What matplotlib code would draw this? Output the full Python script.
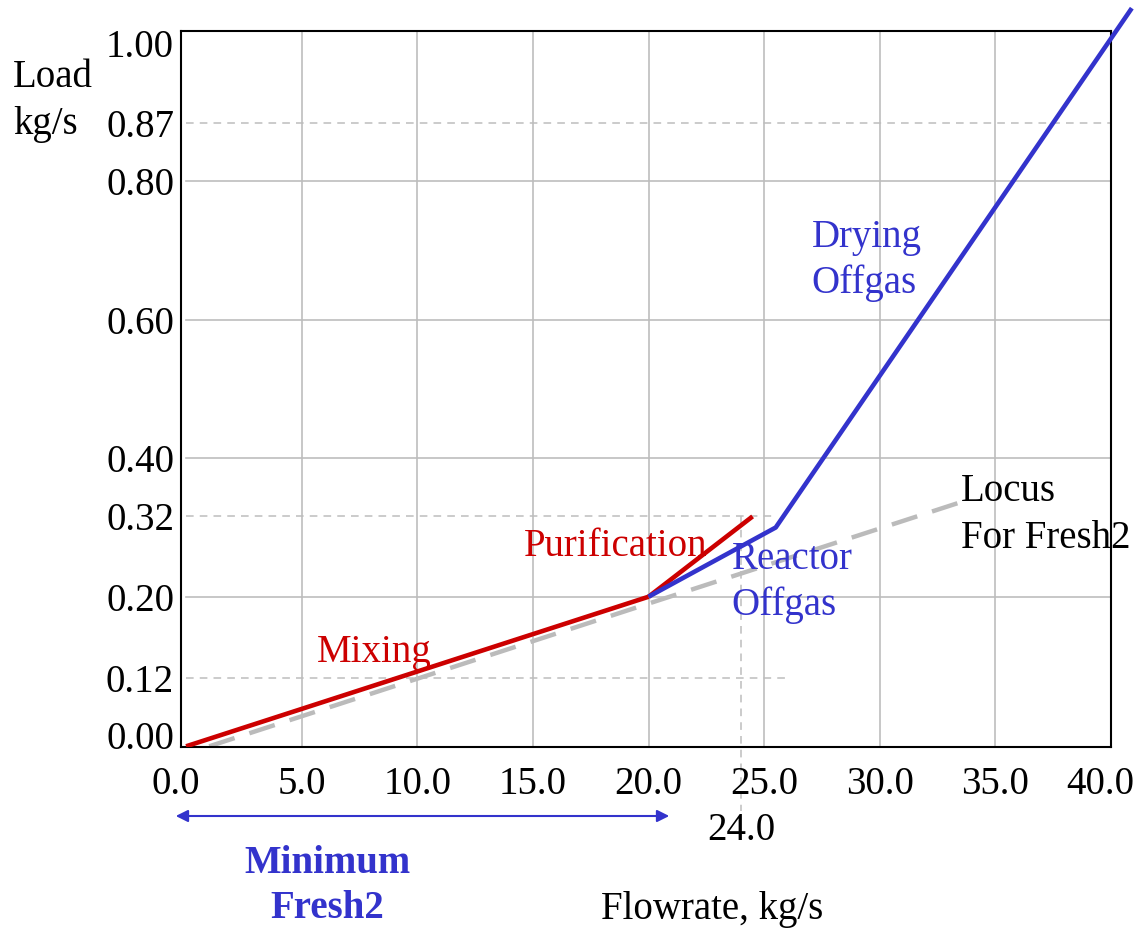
import matplotlib
matplotlib.use("Agg")
import matplotlib.pyplot as plt
from matplotlib.transforms import ScaledTranslation

plt.rcParams['font.family'] = ['Liberation Serif', 'DejaVu Serif']

# ---- data ----
mixing_x = [0.0, 20.0]
mixing_y = [-0.016, 0.20]
purification_x = [20.0, 24.5]
purification_y = [0.20, 0.316]
reactor_x = [20.0, 25.5]
reactor_y = [0.20, 0.300]
drying_x = [25.5, 40.9]
drying_y = [0.300, 1.050]
locus_x = [1.0, 33.45]
locus_y = [-0.016, 0.336]

xtick_values = [0, 5, 10, 15, 20, 25, 30, 35, 40]
xtick_labels = ["0.0", "5.0", "10.0", "15.0", "20.0", "25.0", "30.0", "35.0", "40.0"]
ytick_values = [0.0, 0.083, 0.20, 0.3165, 0.40, 0.60, 0.80, 0.8836, 1.0]
ytick_labels = ["0.00", "0.12", "0.20", "0.32", "0.40", "0.60", "0.80", "0.87", "1.00"]
solid_grid_y = [0.2, 0.4, 0.6, 0.8]
solid_grid_x = [5, 10, 15, 20, 25, 30, 35]

RED = "#CC0000"
BLUE = "#3333CC"
GRID = "#BDBDBD"
LOCUS = "#BBBBBB"

fig = plt.figure(figsize=(11.41, 9.33), dpi=100)
ax = fig.add_axes([181/1141, (933-747)/933, (1111-181)/1141, (747-31)/933])
ax.set_xlim(-0.22, 40.0)
ax.set_ylim(-0.017, 1.017)

# grid
for gy in solid_grid_y:
    ax.plot([0, 40], [gy, gy], color=GRID, lw=1.2, zorder=1)
for gx in solid_grid_x:
    ax.plot([gx, gx], [-0.017, 1.017], color=GRID, lw=1.2, zorder=1)

dash_kw = dict(color=GRID, lw=1.1, dashes=(5, 4), zorder=1)
ax.plot([0, 40], [0.8836, 0.8836], **dash_kw)
ax.plot([0, 25.5], [0.3165, 0.3165], **dash_kw)
ax.plot([0, 26.0], [0.083, 0.083], **dash_kw)
ax.plot([24.0, 24.0], [0.3165, -0.11], clip_on=False, **dash_kw)

# locus
ax.plot(locus_x, locus_y, color=LOCUS, lw=3.2, dashes=(6, 3.5), zorder=2,
        solid_capstyle='butt', dash_capstyle='butt')
# curves
ax.plot(mixing_x, mixing_y, color=RED, lw=3.3, zorder=3, solid_capstyle='butt')
ax.plot(purification_x, purification_y, color=RED, lw=3.3, zorder=3, solid_capstyle='butt')
ax.plot(reactor_x + drying_x[1:], reactor_y + drying_y[1:], color=BLUE, lw=3.3,
        zorder=4, clip_on=False, solid_capstyle='butt')

ax.set_xticks(xtick_values)
ax.set_xticklabels(xtick_labels)
ax.set_yticks(ytick_values)
ax.set_yticklabels(ytick_labels)
ax.tick_params(length=0, labelsize=28, pad=5)
ax.tick_params(axis='x', pad=14)
xl = ax.get_xticklabels()
xl[0].set_transform(xl[0].get_transform() + ScaledTranslation(-10/100, 0, fig.dpi_scale_trans))
xl[-1].set_transform(xl[-1].get_transform() + ScaledTranslation(-11/100, 0, fig.dpi_scale_trans))
for s in ax.spines.values():
    s.set_linewidth(1.5)

fs = 28
ax.text(5.65, 0.12, "Mixing", color=RED, fontsize=28, ha='left', va='center')
ax.text(14.6, 0.272, "Purification", color=RED, fontsize=28, ha='left', va='center')
ax.text(23.6, 0.221, "Reactor\nOffgas", color=BLUE, fontsize=28, ha='left', va='center',
        linespacing=1.3)
ax.text(27.05, 0.686, "Drying\nOffgas", color=BLUE, fontsize=28, ha='left', va='center',
        linespacing=1.3)
ax.text(33.5, 0.318, "Locus\nFor Fresh2", color='black', fontsize=28, ha='left', va='center',
        linespacing=1.35)

fig.text(13/1141, 1-101/933, "Load\nkg/s", fontsize=fs, ha='left', va='center', linespacing=1.38)
fig.text(741/1141, 1-830/933, "24.0", fontsize=fs, ha='center', va='center')
fig.text(712/1141, 1-910/933, "Flowrate, kg/s", fontsize=fs, ha='center', va='center')
fig.text(327/1141, 1-886/933, "Minimum\nFresh2", fontsize=fs, ha='center', va='center',
         color=BLUE, fontweight='bold', linespacing=1.3)
fig.add_artist(matplotlib.patches.FancyArrowPatch(
    (173/1141, 1-816/933), (672/1141, 1-816/933), transform=fig.transFigure,
    arrowstyle='<|-|>', mutation_scale=18, color=BLUE, lw=1.5))

fig.savefig("out.png", dpi=100)
